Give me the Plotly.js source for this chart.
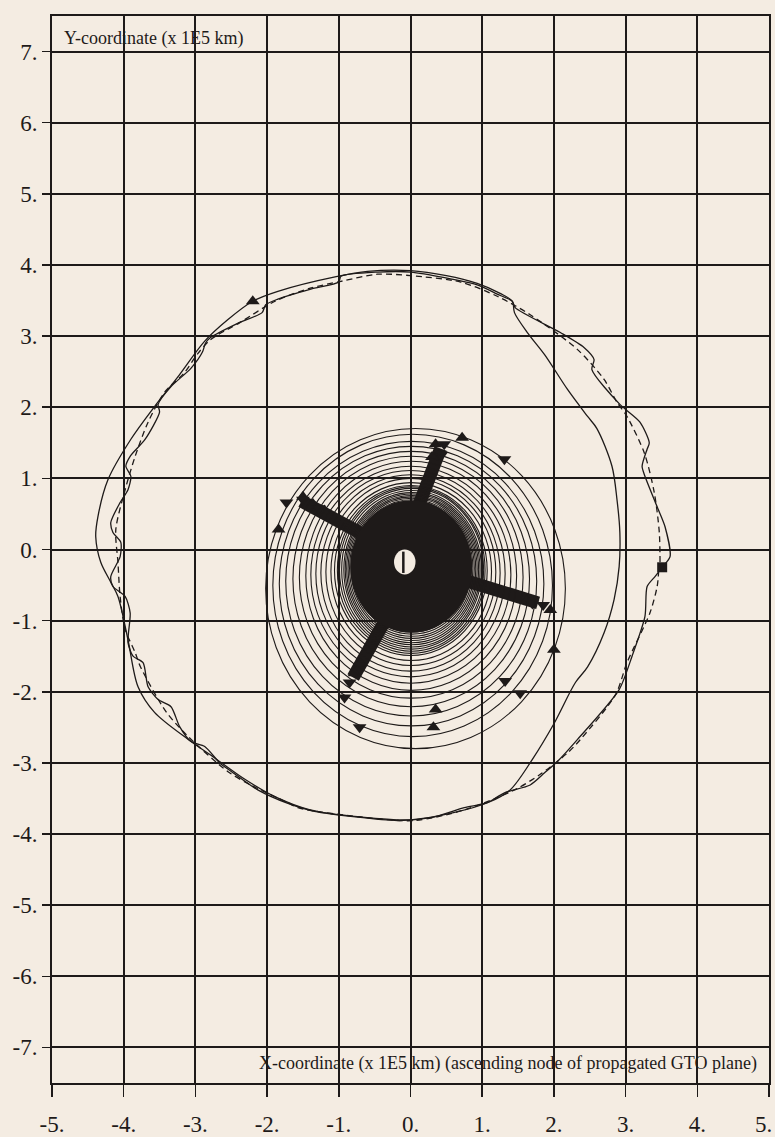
<!DOCTYPE html>
<html>
<head>
<meta charset="utf-8">
<script src="https://cdn.plot.ly/plotly-3.0.1.min.js"></script>
<style>
html,body{margin:0;padding:0;background:#f4ece2;}
#chart{width:775px;height:1137px;}
</style>
</head>
<body>
<div id="chart"></div>
<script>
// ---- tick labels ----
const xTicks = [-5,-4,-3,-2,-1,0,1,2,3,4,5];
const xTickLabels = ["-5.","-4.","-3.","-2.","-1.","0.","1.","2.","3.","4.","5."];
const yTicks = [-7,-6,-5,-4,-3,-2,-1,0,1,2,3,4,5,6,7];
const yTickLabels = ["-7.","-6.","-5.","-4.","-3.","-2.","-1.","0.","1.","2.","3.","4.","5.","6.","7."];

// ---- spiral orbit rings (bounding extents, x1E5 km) ----
const ringLeft   = [-2.02,-1.92,-1.83,-1.74,-1.64,-1.55,-1.46,-1.39,-1.32,-1.25,-1.18,-1.11,-1.06,-1.02,-0.99,-0.96,-0.93,-0.91,-0.89,-0.87,-0.85,-0.83,-0.81,-0.79];
const ringRight  = [ 2.16, 1.98, 1.86, 1.76, 1.66, 1.57, 1.48, 1.40, 1.32, 1.25, 1.19, 1.13, 1.07, 1.04, 1.02, 0.99, 0.97, 0.95, 0.93, 0.91, 0.89, 0.87, 0.85, 0.83];
const ringTop    = [ 1.70, 1.62, 1.52, 1.45, 1.38, 1.31, 1.24, 1.17, 1.11, 1.05, 1.00, 0.94, 0.90, 0.88, 0.86, 0.83, 0.80, 0.78, 0.76, 0.74, 0.72, 0.70, 0.68, 0.66];
const ringBottom = [-2.80,-2.63,-2.48,-2.34,-2.21,-2.09,-1.98,-1.88,-1.79,-1.71,-1.63,-1.56,-1.49,-1.46,-1.43,-1.40,-1.37,-1.34,-1.31,-1.28,-1.25,-1.22,-1.19,-1.16];

// dense core of the spiral and the Earth gap
const coreExtent = {left:-0.84, right:0.86, bottom:-1.17, top:0.69};
const holeExtent = {left:-0.23, right:0.07, bottom:-0.35, top:0.00};
const holeLineX = [-0.10, -0.10];
const holeLineY = [-0.03, -0.33];

// ---- marker arms (apsis markers packed into bands) ----
const armStartX = [ 0.05, -0.55, -0.30, 0.65];
const armStartY = [ 0.45,  0.15, -0.90, -0.40];
const armEndX   = [ 0.42, -1.52, -0.80, 1.78];
const armEndY   = [ 1.42,  0.68, -1.80, -0.75];

// ---- triangle markers ----
const upX   = [0.35, 0.72, -1.84, -1.50, -1.36, -1.20, 2.00, 0.35, 0.32, 1.95, -2.20, -0.78, -0.70, 1.62, 0.30];
const upY   = [1.48, 1.57,  0.28,  0.74,  0.64,  0.55,-1.41,-2.25,-2.50,-0.85,  3.49, -1.74, -1.60,-0.72, 1.30];
const downX = [0.47, 1.31, -1.73, -1.50, -1.28, -0.85, -0.92, -0.71, 1.32, 1.53, 1.85, 1.70, 0.43];
const downY = [1.48, 1.27,  0.66,  0.70,  0.58, -1.87, -2.08, -2.50,-1.85,-2.02,-0.78,-0.76, 1.33];

// ---- end point (square) ----
const squareX = [3.51];
const squareY = [-0.25];

// ---- dashed outer curve ----
const dashX = [3.48,3.47,3.40,3.26,3.02,2.88,2.70,2.33,1.67,1.21,0.70,0.00,-0.46,-0.97,-1.41,-1.89,-2.38,-2.79,-2.97,-3.15,-3.43,-3.66,-3.84,-3.98,-4.11,-4.08,-4.05,-3.98,-3.84,-3.77,-3.41,-3.10,-2.55,-2.23,-1.71,-1.57,-0.70,0.06,0.75,1.45,1.81,2.19,2.37,2.86,3.02,3.34,3.44,3.46];
const dashY = [-0.18,0.24,0.80,1.36,1.87,2.07,2.39,2.81,3.30,3.56,3.76,3.85,3.87,3.77,3.67,3.49,3.19,2.95,2.75,2.49,2.21,1.79,1.31,0.84,0.28,-0.18,-0.66,-1.12,-1.45,-1.64,-2.28,-2.63,-3.12,-3.31,-3.56,-3.63,-3.76,-3.81,-3.66,-3.38,-3.16,-2.86,-2.67,-2.04,-1.59,-0.89,-0.52,-0.32];

// ---- wiggly solid outer curve ----
const wigX = [3.51,3.62,3.55,3.44,3.27,3.23,3.30,3.33,3.20,2.92,2.53,2.56,2.42,2.09,1.46,1.42,1.21,0.93,0.00,-0.46,-0.97,-1.00,-1.39,-1.85,-2.02,-2.07,-2.41,-2.79,-2.86,-2.90,-3.06,-3.34,-3.52,-3.50,-3.70,-3.91,-3.97,-3.90,-3.94,-4.05,-4.18,-4.15,-4.04,-4.05,-4.18,-4.15,-3.98,-3.91,-3.94,-3.87,-3.73,-3.66,-3.52,-3.34,-3.22,-3.06,-2.87,-2.66,-2.50,-2.13,-1.71,-1.34,-0.18,0.28,0.75,1.07,1.31,1.67,1.87,2.05,2.33,2.91,3.09,3.27,3.30,3.41,3.51];
const wigY = [-0.25,-0.10,0.32,0.60,1.03,1.17,1.41,1.50,1.79,2.04,2.53,2.67,2.84,3.05,3.40,3.49,3.59,3.72,3.90,3.90,3.84,3.76,3.66,3.52,3.44,3.33,3.18,2.98,2.90,2.78,2.55,2.29,2.04,1.93,1.55,1.31,1.17,1.03,0.84,0.66,0.38,0.24,0.10,-0.10,-0.38,-0.52,-0.66,-0.89,-1.31,-1.50,-1.59,-1.93,-2.11,-2.21,-2.49,-2.70,-2.77,-3.00,-3.12,-3.38,-3.57,-3.68,-3.81,-3.77,-3.63,-3.56,-3.42,-3.31,-3.14,-2.98,-2.67,-1.97,-1.50,-0.94,-0.52,-0.38,-0.25];

// ---- large smooth transfer loop ----
const loopX = [1.42,1.45,1.63,1.87,2.19,2.47,2.60,2.81,2.88,2.92,2.91,2.84,2.70,2.47,2.30,2.00,1.70,1.39,1.10,0.60,0.00,-0.70,-1.40,-1.90,-2.31,-2.73,-3.10,-3.57,-3.80,-3.94,-4.08,-4.18,-4.32,-4.39,-4.36,-4.22,-3.90,-3.57,-3.25,-2.87,-2.55,-2.20,-1.85,-1.02,-0.60,0.00,0.50,0.93,1.25,1.42];
const loopY = [3.49,3.33,3.05,2.74,2.25,1.87,1.70,1.17,0.70,0.24,-0.24,-0.70,-1.17,-1.65,-1.87,-2.45,-2.95,-3.38,-3.55,-3.70,-3.80,-3.76,-3.66,-3.47,-3.23,-2.93,-2.67,-2.29,-1.93,-1.27,-0.66,-0.46,-0.18,0.18,0.46,0.98,1.55,2.01,2.42,2.93,3.23,3.49,3.63,3.84,3.91,3.92,3.85,3.74,3.60,3.49];

const BG = '#f4ece2';
const INK = '#1e1a19';

const traces = [];
traces.push({x:dashX, y:dashY, type:'scatter', mode:'lines', line:{color:INK, width:1.3, dash:'6px,4px', shape:'spline', smoothing:0.8}, hoverinfo:'skip'});
traces.push({x:wigX, y:wigY, type:'scatter', mode:'lines', line:{color:INK, width:1.3, shape:'spline', smoothing:0.7}, hoverinfo:'skip'});
traces.push({x:loopX, y:loopY, type:'scatter', mode:'lines', line:{color:INK, width:1.3, shape:'spline', smoothing:0.9}, hoverinfo:'skip'});
for (let i = 0; i < armStartX.length; i++) {
  traces.push({x:[armStartX[i], armEndX[i]], y:[armStartY[i], armEndY[i]], type:'scatter', mode:'lines', line:{color:INK, width:13}, hoverinfo:'skip'});
}
traces.push({x:upX, y:upY, type:'scatter', mode:'markers', marker:{symbol:'triangle-up', size:12, color:INK}, hoverinfo:'skip'});
traces.push({x:downX, y:downY, type:'scatter', mode:'markers', marker:{symbol:'triangle-down', size:12, color:INK}, hoverinfo:'skip'});
traces.push({x:squareX, y:squareY, type:'scatter', mode:'markers', marker:{symbol:'square', size:10, color:INK}, hoverinfo:'skip'});

const shapes = [];
for (let i = 0; i < ringLeft.length; i++) {
  shapes.push({type:'circle', xref:'x', yref:'y', x0:ringLeft[i], x1:ringRight[i], y0:ringBottom[i], y1:ringTop[i], line:{color:INK, width:1.1}});
}
shapes.push({type:'circle', xref:'x', yref:'y', x0:coreExtent.left, x1:coreExtent.right, y0:coreExtent.bottom, y1:coreExtent.top, fillcolor:INK, line:{width:0}});
shapes.push({type:'circle', xref:'x', yref:'y', x0:holeExtent.left, x1:holeExtent.right, y0:holeExtent.bottom, y1:holeExtent.top, fillcolor:BG, line:{width:0}});
shapes.push({type:'line', xref:'x', yref:'y', x0:holeLineX[0], x1:holeLineX[1], y0:holeLineY[0], y1:holeLineY[1], line:{color:INK, width:2.5}});

// last x tick label is placed as an annotation so it stays inside the page
const lastIdx = xTickLabels.length - 1;
const xTickShown = xTickLabels.map((t, i) => i === lastIdx ? '' : t);

const serif = '"Liberation Serif","Times New Roman",serif';
const layout = {
  width:775, height:1137,
  margin:{l:52, r:6, t:16, b:54},
  paper_bgcolor:BG, plot_bgcolor:BG,
  showlegend:false,
  font:{family:serif, color:INK},
  xaxis:{range:[-5,5], tickvals:xTicks, ticktext:xTickShown, ticks:'outside', ticklen:12, tickwidth:1.5, tickcolor:INK,
         showgrid:true, gridcolor:INK, gridwidth:2, zeroline:false, showline:true, linecolor:INK, linewidth:2, mirror:true,
         tickfont:{family:serif, size:23, color:INK}, ticklabelstandoff:7, ticklabeloverflow:'allow', fixedrange:true},
  yaxis:{range:[-7.5,7.5], tickvals:yTicks, ticktext:yTickLabels, ticks:'outside', ticklen:8, tickwidth:1.5, tickcolor:INK,
         showgrid:true, gridcolor:INK, gridwidth:2, zeroline:false, showline:true, linecolor:INK, linewidth:2, mirror:true,
         tickfont:{family:serif, size:23, color:INK}, ticklabelstandoff:0, ticklabeloverflow:'allow', fixedrange:true},
  shapes:shapes,
  annotations:[
    {x:-4.86, y:7.19, xref:'x', yref:'y', text:'Y-coordinate (x 1E5 km)', showarrow:false, xanchor:'left', yanchor:'middle', font:{family:serif, size:18, color:INK}},
    {x:4.86, y:-7.23, xref:'x', yref:'y', text:'X-coordinate (x 1E5 km) (ascending node of propagated GTO plane)', showarrow:false, xanchor:'right', yanchor:'middle', font:{family:serif, size:18, color:INK}},
    {x:xTicks[lastIdx], y:-0.039, xref:'x', yref:'paper', text:xTickLabels[lastIdx], showarrow:false, xanchor:'right', yanchor:'middle', xshift:5, font:{family:serif, size:23, color:INK}}
  ]
};
Plotly.newPlot('chart', traces, layout, {staticPlot:true, displayModeBar:false});
</script>
</body>
</html>
